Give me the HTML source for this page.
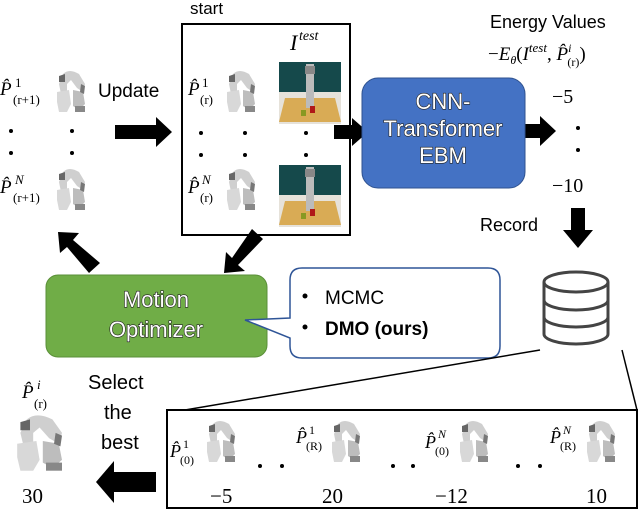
<!DOCTYPE html>
<html><head><meta charset="utf-8"><style>
html,body{margin:0;padding:0;background:#fff;}
svg{display:block;}
text{font-family:"Liberation Sans","DejaVu Sans",sans-serif;}
.m{font-family:"Liberation Serif","DejaVu Serif",serif;font-style:italic;}
.n{font-family:"Liberation Serif","DejaVu Serif",serif;}
.w{fill:#fff;stroke:#222;stroke-width:1.2;paint-order:stroke;font-size:22px;}
</style></head><body>
<svg width="640" height="513" viewBox="0 0 640 513" xmlns="http://www.w3.org/2000/svg">
<defs>
<g id="rb">
<path d="M8,4 Q14,-2 24,4 L30,14 L28,22 L22,18 L16,10 L12,14 L12,22 L6,24 L4,14 Z" fill="#cfcfcf"/>
<path d="M4,6 L10,4 L10,12 L4,12 Z" fill="#666"/>
<path d="M2,22 L14,20 L16,34 L12,42 L4,42 L2,32 Z" fill="#d8d8d8"/>
<path d="M18,20 L28,22 L30,34 L24,40 L18,36 Z" fill="#bdbdbd"/>
<path d="M20,36 L30,36 L30,42 L20,42 Z" fill="#888"/>
<path d="M26,14 L30,16 L29,24 L25,22 Z" fill="#777"/>
</g>
<g id="img">
<rect x="0" y="0" width="62" height="62" fill="#e6e2da"/>
<rect x="0" y="0" width="62" height="30" fill="#15494b"/>
<path d="M6,36 L56,36 L62,60 L0,60 Z" fill="#d9ab55"/>
<rect x="27" y="2" width="8" height="44" fill="#bbbbbb"/>
<rect x="26" y="4" width="10" height="8" fill="#888"/>
<rect x="31" y="44" width="5" height="7" fill="#b01818"/>
<rect x="22" y="48" width="5" height="6" fill="#889922"/>
</g>
</defs>

<text x="190" y="14" font-size="17">start</text>
<rect x="182" y="24" width="168" height="211" fill="#fff" stroke="#000" stroke-width="2"/>
<text x="290" y="50" class="m" font-size="22">I</text>
<text x="299" y="40" class="m" font-size="14">test</text>
<use href="#img" x="279" y="62"/>
<use href="#img" x="279" y="165"/>
<use href="#rb" x="225" y="70"/>
<use href="#rb" x="225" y="168"/>
<text x="188" y="95" class="m" font-size="19">P̂</text><text x="202" y="87" class="n" font-size="13">1</text><text x="200" y="104" class="n" font-size="13">(r)</text>
<text x="188" y="193" class="m" font-size="19">P̂</text><text x="202" y="184" class="m" font-size="13">N</text><text x="200" y="202" class="n" font-size="13">(r)</text>
<g fill="#000"><circle cx="201" cy="133" r="2"/><circle cx="201" cy="155" r="2"/><circle cx="245" cy="133" r="2"/><circle cx="245" cy="155" r="2"/><circle cx="306" cy="133" r="2"/><circle cx="306" cy="155" r="2"/></g>

<use href="#rb" x="55" y="70"/>
<use href="#rb" x="55" y="168"/>
<text x="0" y="95" class="m" font-size="19">P̂</text><text x="15" y="87" class="n" font-size="13">1</text><text x="13" y="104" class="n" font-size="13">(r+1)</text>
<text x="0" y="193" class="m" font-size="19">P̂</text><text x="15" y="184" class="m" font-size="13">N</text><text x="13" y="202" class="n" font-size="13">(r+1)</text>
<g fill="#000"><circle cx="11" cy="131" r="2"/><circle cx="11" cy="153" r="2"/><circle cx="72" cy="131" r="2"/><circle cx="72" cy="153" r="2"/></g>
<text x="98" y="97" font-size="19">Update</text>

<g fill="#000">
<path d="M115,125 L156,125 L156,117 L172,132 L156,147 L156,139 L115,139 Z"/>
<path d="M334,125 L352,125 L352,118 L368,132 L352,146 L352,139 L334,139 Z"/>
<path d="M521,124 L540,124 L540,116 L556,131 L540,146 L540,138 L521,138 Z"/>
<path d="M571,208 L585,208 L585,230 L593,230 L578,248 L563,230 L571,230 Z"/>
<path d="M252,229 L263,239 L238,265 L245,271 L224,273 L226,252 L232,258 Z"/>
<path d="M100,263 L89,273 L67,247 L60,253 L58,232 L79,233 L73,240 Z"/>
<path d="M156,472 L156,492 L114,492 L114,503 L96,482 L114,461 L114,472 Z"/>
</g>

<rect x="362" y="78" width="163" height="110" rx="16" fill="#4472c4" stroke="#2f528f" stroke-width="1"/>
<text x="443" y="109" text-anchor="middle" class="w">CNN-</text>
<text x="443" y="136" text-anchor="middle" class="w">Transformer</text>
<text x="443" y="163" text-anchor="middle" class="w">EBM</text>

<text x="490" y="28" font-size="18">Energy Values</text>
<text x="488" y="60" class="n" font-size="19">−<tspan class="m">E</tspan><tspan class="m" font-size="12" dy="4">θ</tspan><tspan dy="-4">(</tspan><tspan class="m">I</tspan><tspan class="m" font-size="13" dy="-8">test</tspan><tspan dy="8">, </tspan><tspan class="m">P̂</tspan><tspan class="m" font-size="12" dy="-8">i</tspan><tspan font-size="12" dx="-4" dy="14">(r)</tspan><tspan dy="-6">)</tspan></text>
<text x="552" y="103" class="n" font-size="20">−5</text>
<circle cx="578" cy="128" r="2"/><circle cx="578" cy="150" r="2"/>
<text x="552" y="192" class="n" font-size="20">−10</text>
<text x="480" y="231" font-size="18">Record</text>

<g fill="none" stroke="#444" stroke-width="3">
<path d="M544,282 L544,334 A32,10 0 0 0 608,334 L608,282"/>
<ellipse cx="576" cy="282" rx="32" ry="10"/>
<path d="M544,300 A32,10 0 0 0 608,300"/>
<path d="M544,317 A32,10 0 0 0 608,317"/>
</g>

<rect x="46" y="275" width="221" height="82" rx="12" fill="#70ad47" stroke="#5a8f38"/>
<text x="156" y="307" text-anchor="middle" class="w">Motion</text>
<text x="156" y="337" text-anchor="middle" class="w">Optimizer</text>

<path d="M302,268 L488,268 Q500,268 500,280 L500,346 Q500,358 488,358 L302,358 Q290,358 290,346 L290,338 L245,320 L290,318 L290,280 Q290,268 302,268 Z" fill="#fff" stroke="#2f5597" stroke-width="1.5"/>
<circle cx="305" cy="296" r="2.5"/><circle cx="305" cy="327" r="2.5"/>
<text x="325" y="304" font-size="19">MCMC</text>
<text x="325" y="335" font-size="19" font-weight="bold">DMO (ours)</text>

<line x1="185" y1="410" x2="540" y2="350" stroke="#000" stroke-width="1.5"/>
<line x1="622" y1="350" x2="637" y2="410" stroke="#000" stroke-width="1.5"/>

<rect x="167" y="410" width="470" height="98" fill="#fff" stroke="#000" stroke-width="2"/>
<g>
<text x="170" y="457" class="m" font-size="18">P̂</text><text x="183" y="448" class="n" font-size="12">1</text><text x="180" y="464" class="n" font-size="12">(0)</text>
<use href="#rb" x="205" y="420"/>
<text x="296" y="443" class="m" font-size="18">P̂</text><text x="309" y="434" class="n" font-size="12">1</text><text x="306" y="450" class="n" font-size="12">(R)</text>
<use href="#rb" x="330" y="420"/>
<text x="425" y="448" class="m" font-size="18">P̂</text><text x="438" y="438" class="m" font-size="12">N</text><text x="435" y="455" class="n" font-size="12">(0)</text>
<use href="#rb" x="458" y="420"/>
<text x="550" y="443" class="m" font-size="18">P̂</text><text x="563" y="434" class="m" font-size="12">N</text><text x="560" y="450" class="n" font-size="12">(R)</text>
<use href="#rb" x="585" y="420"/>
<g fill="#000"><circle cx="260" cy="466" r="2"/><circle cx="282" cy="466" r="2"/><circle cx="393" cy="466" r="2"/><circle cx="413" cy="466" r="2"/><circle cx="518" cy="466" r="2"/><circle cx="540" cy="466" r="2"/></g>
<text x="210" y="503" class="n" font-size="21">−5</text>
<text x="322" y="503" class="n" font-size="21">20</text>
<text x="435" y="503" class="n" font-size="21">−12</text>
<text x="586" y="503" class="n" font-size="21">10</text>
</g>

<text x="22" y="398" class="m" font-size="19">P̂</text><text x="37" y="389" class="m" font-size="13">i</text><text x="34" y="408" class="n" font-size="13">(r)</text>
<g transform="translate(14,414) scale(1.6,1.35)"><use href="#rb"/></g>
<text x="22" y="503" class="n" font-size="21">30</text>
<text x="88" y="389" font-size="20">Select</text>
<text x="104" y="419" font-size="20">the</text>
<text x="101" y="449" font-size="20">best</text>
</svg>
</body></html>
